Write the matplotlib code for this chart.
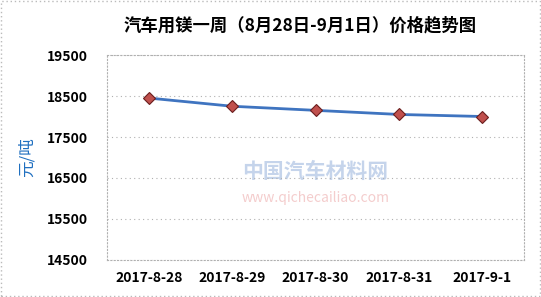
import matplotlib
matplotlib.use("Agg")
from matplotlib import pyplot as plt
from matplotlib.patches import Rectangle

plt.rcParams['font.family'] = ['Noto Sans CJK SC', 'DejaVu Sans']

dates = ["2017-8-28", "2017-8-29", "2017-8-30", "2017-8-31", "2017-9-1"]
prices = [18450, 18250, 18150, 18050, 18000]
yticks = [14500, 15500, 16500, 17500, 18500, 19500]

fig = plt.figure(figsize=(5.41, 2.97), dpi=100)
ax = fig.add_axes([0.198, 0.1246, 0.7706, 0.6902])

x = list(range(len(dates)))
ax.plot(x, prices, color="#3F74C0", lw=2, zorder=3)
ax.plot(x, prices, ls="none", marker="D", ms=6.5, mfc="#C0504D", mec="#6B1E1E", mew=0.8, zorder=4)

ax.set_xlim(-0.5, len(dates) - 0.5)
ax.set_ylim(14500, 19500)
ax.set_yticks(yticks)
ax.set_xticks(x)
ax.set_xticklabels(dates)
ax.tick_params(length=0, labelsize=10)
ax.tick_params(axis="x", pad=8)
ax.tick_params(axis="y", pad=14)
for lab in ax.get_xticklabels() + ax.get_yticklabels():
    lab.set_fontweight("bold")

ax.grid(axis="y", color="#B0B0B0", ls=(0, (1, 3)), lw=0.8)
for s in ax.spines.values():
    s.set_color("#B0B0B0")
    s.set_linestyle((0, (1, 2)))
    s.set_linewidth(0.8)

ax.set_ylabel("元/吨", color="#1F6FC0", fontsize=12, labelpad=8)

# watermark
ax.text(0.5, 0.43, "中国汽车材料网", transform=ax.transAxes, ha="center", va="center",
        fontsize=15, fontweight="bold", style="italic", color="#5B86C8", alpha=0.35, zorder=1)
ax.text(0.5, 0.30, "www.qichecailiao.com", transform=ax.transAxes, ha="center", va="center",
        fontsize=10, style="italic", color="#E07070", alpha=0.35, zorder=1)

fig.text(0.555, 0.915, "汽车用镁一周（8月28日-9月1日）价格趋势图", ha="center", va="center",
         fontsize=12.5, fontweight="bold")

fig.patches.append(Rectangle((0.001, 0.002), 0.997, 0.996, transform=fig.transFigure,
                             fill=False, ec="#BBBBBB", lw=1, ls=(0, (1, 2))))

fig.savefig("out.png", dpi=100)
